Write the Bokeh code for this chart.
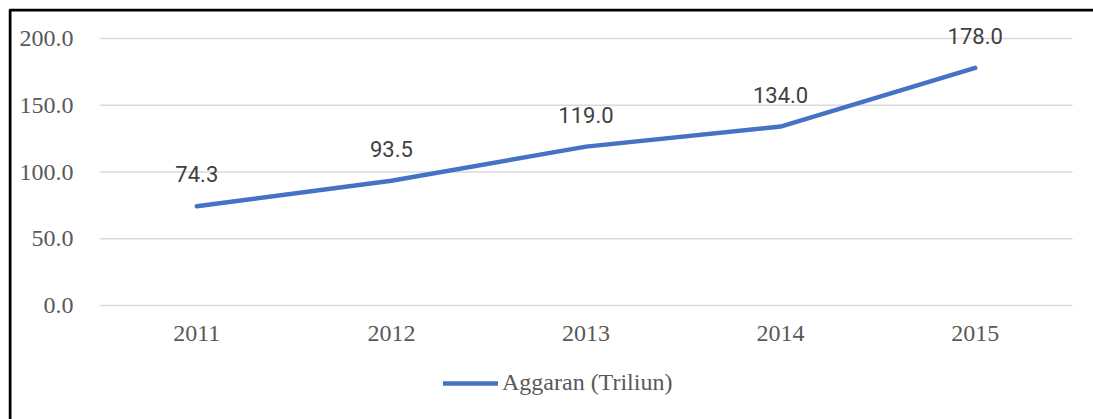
from bokeh.plotting import figure
from bokeh.models import (ColumnDataSource, Legend, LegendItem, PrintfTickFormatter, Range1d,
                          BoxAnnotation, FixedTicker)
from bokeh.core.properties import value
from bokeh.embed import file_html
from bokeh.resources import INLINE

years = ["2011", "2012", "2013", "2014", "2015"]
anggaran = [74.3, 93.5, 119.0, 134.0, 178.0]
labels = ["74.3", "93.5", "119.0", "134.0", "178.0"]
y_ticks = [0, 50, 100, 150, 200]
series_name = "Aggaran (Triliun)"

xs = [int(y) for y in years]
src = ColumnDataSource(dict(x=xs, y=anggaran, lab=labels))
grid_src = ColumnDataSource(dict(x0=[xs[0] - 0.5] * len(y_ticks), x1=[xs[-1] + 0.5] * len(y_ticks),
                                 y=y_ticks))

p = figure(width=1093, height=419, x_range=Range1d(2010.0324, 2015.6079), y_range=Range1d(-85.39, 222.47),
           output_backend="svg", toolbar_location=None,
           min_border_left=8, min_border_right=0, min_border_top=8, min_border_bottom=0)
p.outline_line_color = None
p.background_fill_color = "white"
p.border_fill_color = "white"
p.grid.grid_line_color = None

p.segment("x0", "y", "x1", "y", source=grid_src, line_color="#d9d9d9", line_width=1.5)
line = p.line("x", "y", source=src, line_color="#4472C4", line_width=4.5, line_cap="round", line_join="round")
p.text("x", "y", text="lab", source=src, text_align="center", text_baseline="middle", y_offset=-32,
       text_font=value("Roboto"), text_font_size="22px", text_color="#404040")

p.yaxis.ticker = FixedTicker(ticks=y_ticks)
p.yaxis.formatter = PrintfTickFormatter(format="%.1f")
p.yaxis.fixed_location = xs[0] - 0.5
p.xaxis.ticker = FixedTicker(ticks=xs)
p.xaxis.formatter = PrintfTickFormatter(format="%d")
p.xaxis.fixed_location = 0
for ax in (p.xaxis, p.yaxis):
    ax.axis_line_color = None
    ax.major_tick_line_color = None
    ax.minor_tick_line_color = None
    ax.major_label_text_font = "Liberation Serif"
    ax.major_label_text_font_size = "24px"
    ax.major_label_text_color = "#595959"
p.yaxis.major_label_standoff = 20
p.xaxis.major_label_standoff = 14

legend = Legend(items=[LegendItem(label=series_name, renderers=[line])], location=(435, 23),
                border_line_color=None, background_fill_alpha=0, glyph_width=55, label_standoff=4,
                label_text_font="Liberation Serif", label_text_font_size="24px", label_text_color="#595959",
                padding=0, margin=0)
p.add_layout(legend, "center")

border = BoxAnnotation(left=1.5, right=3000, top=409.5, bottom=-1000,
                       left_units="screen", right_units="screen", top_units="screen", bottom_units="screen",
                       fill_alpha=0, line_color="black", line_alpha=1.0, line_width=3, level="overlay")
p.add_layout(border)

open("out.html", "w").write(file_html(p, INLINE))
